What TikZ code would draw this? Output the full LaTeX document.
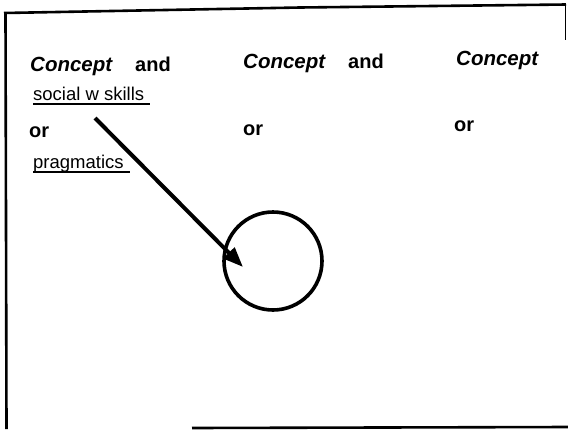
\documentclass[tikz,border=0pt]{standalone}
\usepackage{fontspec}
\setmainfont{Liberation Sans}
\usetikzlibrary{arrows.meta}
\begin{document}
\begin{tikzpicture}[x=1pt,y=-1pt,
  concept/.style={anchor=base west,inner sep=0pt,font=\fontsize{20.5}{24}\selectfont\bfseries\itshape},
  conj/.style={anchor=base west,inner sep=0pt,font=\fontsize{20}{24}\selectfont\bfseries},
  item/.style={anchor=base west,inner sep=0pt,font=\fontsize{18.5}{22}\selectfont},
  uline/.style={line width=1.3pt},
  frame/.style={line width=2.6pt},
  thick arrow/.style={line width=4pt,-{Triangle[length=20pt,width=15pt]}}]
\useasboundingbox (0,0) rectangle (568,429);
\fill[white] (-3,-3) rectangle (571,432);
% frame
\draw[frame] (4,13) -- (300,7.5) -- (566,4.5);
\draw[line width=1.5pt] (565.5,4.5) -- (565.5,40);
\draw[frame] (5.5,12) -- (6.5,429);
\draw[frame] (192,428) -- (568,427);
% texts
\node[concept] (c1) at (30,71) {Concept};
\node[conj] (a1) at (135,71) {and};
\node[concept] (c2) at (243,68) {Concept};
\node[conj] (a2) at (348,68) {and};
\node[concept] (c3) at (456,65) {Concept};
\node[item] (soc) at (33,100) {social w skills};
\draw[uline] (33,104) -- (150,104);
\node[conj] (or1) at (29,137) {or};
\node[conj] (or2) at (243,135) {or};
\node[conj] (or3) at (454,131) {or};
\node[item] (prag) at (33,168) {pragmatics};
\draw[uline] (33,172) -- (130,172);
% circle and arrow
\node[circle,draw,line width=3.6pt,minimum size=98pt,inner sep=0pt] (circ) at (273,261) {};
\coordinate (astart) at (95,118);
\coordinate (atip) at (243,267);
\draw[thick arrow] (astart) -- (atip);
\end{tikzpicture}
\end{document}
